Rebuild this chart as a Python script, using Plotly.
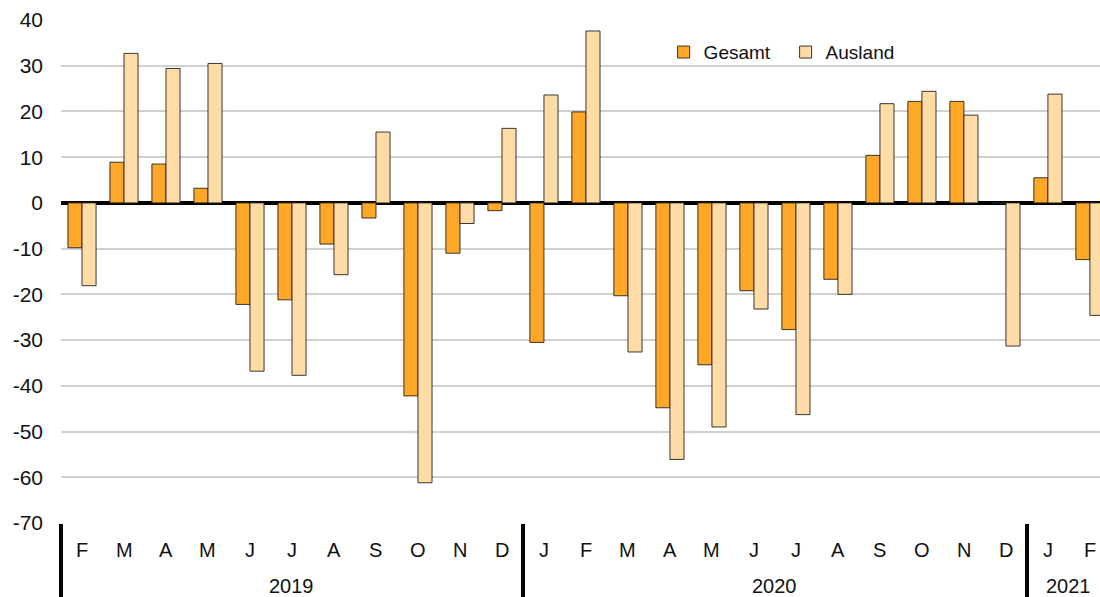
import plotly.graph_objects as go

months = ["F", "M", "A", "M", "J", "J", "A", "S", "O", "N", "D",
          "J", "F", "M", "A", "M", "J", "J", "A", "S", "O", "N", "D",
          "J", "F"]
years = ["2019", "2020", "2021"]
year_counts = [11, 12, 2]

gesamt = [-9.8, 8.9, 8.5, 3.2, -22.2, -21.2, -9.0, -3.3, -42.2, -11.0, -1.7,
          -30.5, 19.9, -20.3, -44.8, -35.4, -19.2, -27.7, -16.7, 10.4, 22.2, 22.2, 0.0,
          5.5, -12.4]
ausland = [-18.1, 32.7, 29.4, 30.5, -36.8, -37.7, -15.7, 15.5, -61.2, -4.5, 16.3,
           23.6, 37.6, -32.6, -56.1, -49.0, -23.2, -46.3, -20.0, 21.7, 24.4, 19.2, -31.3,
           23.8, -24.6]

y_tickvals = [-70, -60, -50, -40, -30, -20, -10, 0, 10, 20, 30, 40]
y_ticktext = ["-70", "-60", "-50", "-40", "-30", "-20", "-10", "0", "10", "20", "30", "40"]

x_idx = list(range(len(months)))

FONT = "Liberation Sans, Arial, sans-serif"

fig = go.Figure()
fig.add_trace(go.Bar(x=x_idx, y=gesamt, name="Gesamt",
                     marker=dict(color="#FFA726", line=dict(color="#222222", width=0.9))))
fig.add_trace(go.Bar(x=x_idx, y=ausland, name="Ausland",
                     marker=dict(color="#FFDCA6", line=dict(color="#222222", width=0.9))))

# separator positions between years
seps = [-0.5]
acc = -0.5
for c in year_counts[:-1]:
    acc += c
    seps.append(acc)

annotations = []
for i, m in enumerate(months):
    annotations.append(dict(x=i, y=0, xref="x", yref="paper", text=m, showarrow=False,
                            yanchor="middle", yshift=-27,
                            font=dict(family=FONT, size=20, color="#111")))
start = -0.5
for yr, c in zip(years, year_counts):
    annotations.append(dict(x=start + c / 2, y=0, xref="x", yref="paper", text=yr,
                            showarrow=False, yanchor="middle", yshift=-63,
                            font=dict(family=FONT, size=20, color="#111")))
    start += c

fig.update_layout(
    width=1100, height=597,
    margin=dict(l=61, r=0, t=20, b=74),
    paper_bgcolor="white", plot_bgcolor="white",
    barmode="group", bargap=0.33, bargroupgap=0,
    font=dict(family=FONT, size=20, color="#111"),
    showlegend=True,
    legend=dict(orientation="h", x=0.58, y=0.936, xanchor="left", yanchor="middle",
                font=dict(family=FONT, size=19, color="#111"),
                entrywidth=77, entrywidthmode="pixels",
                bgcolor="rgba(0,0,0,0)", itemwidth=30, tracegroupgap=0),
    xaxis=dict(range=[-0.5, 24.24], showgrid=False, zeroline=False, automargin=False,
               tickmode="array", tickvals=seps, ticktext=["" for _ in seps],
               ticks="outside", ticklen=76, tickwidth=4, tickcolor="black",
               showline=False, showticklabels=False, fixedrange=True),
    yaxis=dict(range=[-70, 40], tickmode="array", tickvals=y_tickvals, ticktext=y_ticktext,
               showgrid=True, gridcolor="#D0D0D0", gridwidth=2, automargin=False,
               zeroline=True, zerolinecolor="black", zerolinewidth=4,
               showline=False, ticks="", ticklabelstandoff=17,
               tickfont=dict(family=FONT, size=21, color="#111"),
               fixedrange=True),
    annotations=annotations,
)

fig.write_html("out.html", config={"displayModeBar": False},
               post_script="document.body.style.margin='0';document.body.style.overflow='hidden';")
